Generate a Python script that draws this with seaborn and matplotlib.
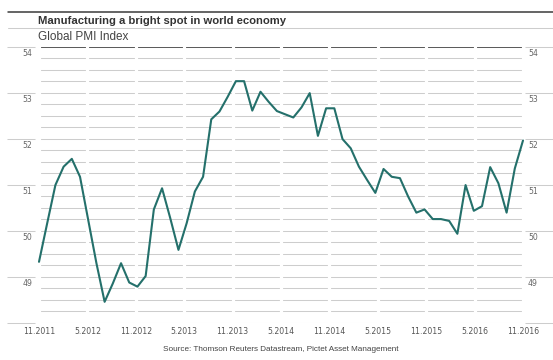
import numpy as np
import matplotlib
matplotlib.use("Agg")
import matplotlib.pyplot as plt
import matplotlib.transforms as mtransforms
from matplotlib.lines import Line2D
import seaborn as sns

# ------------------------------------------------
# Data: Global PMI, monthly, 11.2011 -> 11.2016
# ------------------------------------------------
pmi = [49.32, 50.16, 50.99, 51.39, 51.56, 51.17, 50.23, 49.29, 48.45, 48.85,
       49.29, 48.87, 48.78, 49.01, 50.46, 50.92, 50.27, 49.58, 50.16, 50.85,
       51.17, 52.42, 52.59, 52.91, 53.25, 53.25, 52.61, 53.02, 52.80, 52.60,
       52.53, 52.46, 52.68, 52.99, 52.06, 52.66, 52.66, 51.99, 51.79, 51.39,
       51.10, 50.82, 51.34, 51.17, 51.14, 50.74, 50.39, 50.46, 50.25, 50.25,
       50.21, 49.93, 50.99, 50.43, 50.53, 51.38, 51.03, 50.39, 51.35, 51.96]

x_labels = ["11.2011", "5.2012", "11.2012", "5.2013", "11.2013", "5.2014",
            "11.2014", "5.2015", "11.2015", "5.2016", "11.2016"]
y_ticks = [48, 49, 50, 51, 52, 53, 54]
y_labels = ["", "49", "50", "51", "52", "53", "54"]

title = "Manufacturing a bright spot in world economy"
subtitle = "Global PMI Index"
source = "Source: Thomson Reuters Datastream, Pictet Asset Management"

LINE = "#24706b"
GRID = "#cdcdcd"
DARK = "#3a3a3a"
TXT = "#666666"
HEAD = ["Liberation Sans", "DejaVu Sans"]

sns.set_theme(style="white")
plt.rcParams["font.family"] = ["DejaVu Sans"]

W, H = 553, 360
fig = plt.figure(figsize=(W / 100, H / 100), dpi=100)
fig.patch.set_facecolor("white")

# plot area in pixels
x0, x1 = 39, 523
y_top, y_bot = 46.7, 322.5
ax = fig.add_axes([x0 / W, 1 - y_bot / H, (x1 - x0) / W, (y_bot - y_top) / H])

months = np.arange(len(pmi))
xt = np.linspace(0, len(pmi) - 1, len(x_labels))

ax.set_xlim(0, len(pmi) - 1)
ax.set_ylim(48, 54)
for s in ax.spines.values():
    s.set_visible(False)
ax.spines["left"].set_position(("outward", 4 * 0.72))
ax.spines["right"].set_position(("outward", 2 * 0.72))

# horizontal grid every 0.25
ax.set_axisbelow(True)
ax.set_yticks(y_ticks)
ax.set_yticks(np.arange(48, 54.01, 0.25), minor=True)
ax.grid(which="both", axis="y", color=GRID, lw=0.75)
ax.grid(which="both", axis="x", visible=False)
ax.axhline(54, color=DARK, lw=1.1, zorder=1)

# white vertical breaks at each 6-month tick
for v in xt:
    ax.axvline(v, color="white", lw=2.3, zorder=1.5)

sns.lineplot(x=months, y=pmi, ax=ax, color=LINE, lw=1.5, zorder=3)
for ln in ax.lines[-1:]:
    ln.set_clip_on(False)

# y ticks: long lines outside the plot on both sides, labels tucked underneath
ax.set_yticklabels(y_labels)
ax.tick_params(axis="y", which="major", left=True, right=True,
               labelleft=True, labelright=True, length=20.2, width=0.75,
               color=GRID, pad=-18, labelsize=5.6, labelcolor=TXT)
ax.tick_params(axis="y", which="minor", left=False, right=False)
for t in ax.yaxis.get_major_ticks():
    t.label1.set_horizontalalignment("right")
    t.label2.set_horizontalalignment("left")
ax.yaxis.get_major_ticks()[-1].tick1line.set_color(DARK)
ax.yaxis.get_major_ticks()[-1].tick2line.set_color(DARK)

ax.set_xticks(xt)
ax.set_xticklabels(x_labels)
ax.tick_params(axis="x", length=0, pad=3.2, labelsize=5.6, labelcolor="#555555")
ax.set_xlabel("")
ax.set_ylabel("")

off = mtransforms.ScaledTranslation(0, -0.055, fig.dpi_scale_trans)
for t in ax.yaxis.get_major_ticks():
    t.label1.set_transform(t.label1.get_transform() + off)
    t.label2.set_transform(t.label2.get_transform() + off)

# header rules and texts
fig.add_artist(Line2D([8 / W, 1], [1 - 12.3 / H] * 2, color=DARK, lw=1.1))
fig.add_artist(Line2D([8 / W, 1], [1 - 28.3 / H] * 2, color=GRID, lw=0.75))
fig.text(38.5 / W, 1 - 20.5 / H, title, family=HEAD, fontweight="bold",
         fontsize=8.1, color="#333333", va="center", ha="left")
fig.text(38.5 / W, 1 - 36.5 / H, subtitle, family=HEAD,
         fontsize=8.5, color="#444444", va="center", ha="left")
fig.text(281 / W, 1 - 349.5 / H, source, family=HEAD,
         fontsize=5.9, color="#444444", va="center", ha="center")

fig.savefig("out.png", dpi=100, facecolor="white")
